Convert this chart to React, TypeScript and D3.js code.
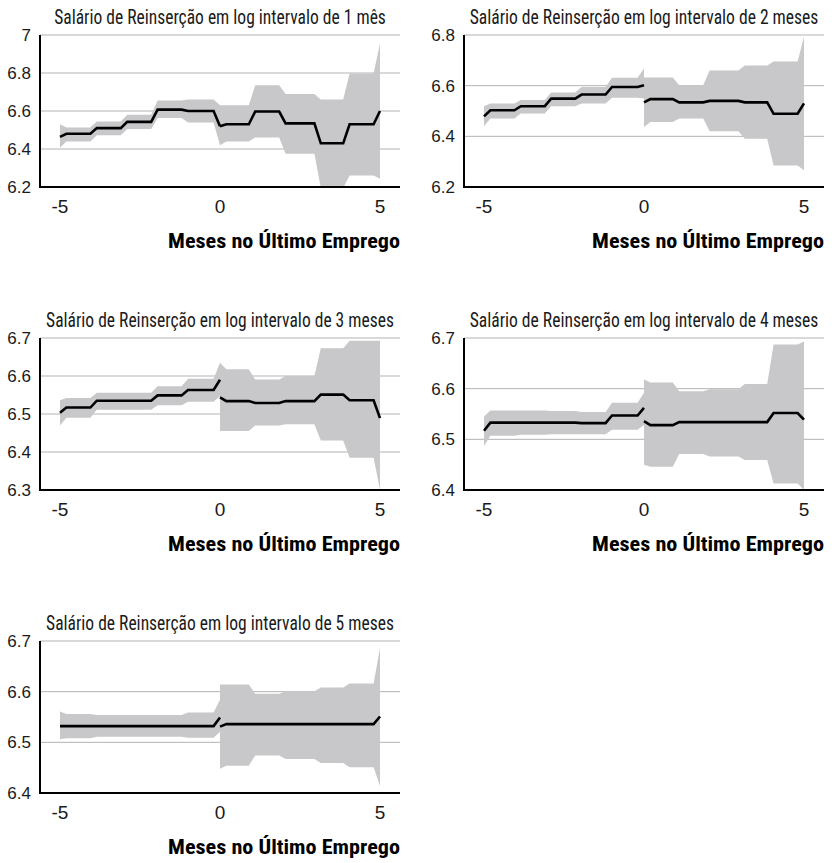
import React, { useLayoutEffect, useRef, useState } from 'react';
import * as d3 from 'd3';

// x positions (months) of the step vertices, before and after the break at 0
const preX = [-5, -4.8, -4.05, -3.85, -3.1, -2.9, -2.15, -1.95, -1.2, -1.0, -0.2, 0];
const postX = [0, 0.2, 0.9, 1.1, 1.85, 2.05, 2.95, 3.15, 3.85, 4.05, 4.8, 5];
const xTicks = [-5, 0, 5];

// each list: start value, five monthly levels, end value
const fit1Pre = [6.464, 6.48, 6.51, 6.543, 6.607, 6.6, 6.52];
const hi1Pre = [6.53, 6.513, 6.545, 6.58, 6.655, 6.66, 6.63];
const lo1Pre = [6.407, 6.44, 6.473, 6.505, 6.563, 6.54, 6.42];
const fit1Post = [6.52, 6.53, 6.597, 6.535, 6.43, 6.53, 6.6];
const hi1Post = [6.63, 6.63, 6.735, 6.69, 6.66, 6.797, 6.955];
const lo1Post = [6.42, 6.44, 6.46, 6.375, 6.195, 6.26, 6.243];

const fit2Pre = [6.479, 6.503, 6.519, 6.549, 6.565, 6.595, 6.602];
const hi2Pre = [6.519, 6.53, 6.543, 6.573, 6.595, 6.631, 6.668];
const lo2Pre = [6.44, 6.47, 6.49, 6.519, 6.53, 6.552, 6.549];
const fit2Post = [6.534, 6.547, 6.534, 6.54, 6.534, 6.489, 6.53];
const hi2Post = [6.632, 6.632, 6.602, 6.66, 6.68, 6.695, 6.793];
const lo2Post = [6.437, 6.457, 6.47, 6.42, 6.39, 6.285, 6.266];

const fit3Pre = [6.503, 6.517, 6.535, 6.535, 6.549, 6.563, 6.59];
const hi3Pre = [6.536, 6.542, 6.556, 6.556, 6.573, 6.593, 6.635];
const lo3Pre = [6.47, 6.49, 6.511, 6.511, 6.523, 6.532, 6.547];
const fit3Post = [6.544, 6.534, 6.529, 6.534, 6.551, 6.536, 6.489];
const hi3Post = [6.635, 6.618, 6.591, 6.6, 6.673, 6.693, 6.693];
const lo3Post = [6.455, 6.455, 6.47, 6.473, 6.43, 6.385, 6.3];

const fit4Pre = [6.517, 6.533, 6.533, 6.533, 6.532, 6.547, 6.562];
const hi4Pre = [6.545, 6.557, 6.557, 6.556, 6.554, 6.572, 6.592];
const lo4Pre = [6.487, 6.507, 6.509, 6.51, 6.51, 6.519, 6.529];
const fit4Post = [6.536, 6.528, 6.534, 6.534, 6.534, 6.552, 6.539];
const hi4Post = [6.618, 6.612, 6.595, 6.599, 6.609, 6.687, 6.693];
const lo4Post = [6.45, 6.446, 6.471, 6.466, 6.459, 6.413, 6.4];

const fit5Pre = [6.532, 6.532, 6.532, 6.532, 6.532, 6.532, 6.549];
const hi5Pre = [6.561, 6.556, 6.554, 6.554, 6.554, 6.559, 6.584];
const lo5Pre = [6.506, 6.508, 6.511, 6.511, 6.511, 6.509, 6.521];
const fit5Post = [6.531, 6.536, 6.536, 6.536, 6.536, 6.536, 6.551];
const hi5Post = [6.614, 6.614, 6.596, 6.601, 6.608, 6.616, 6.686];
const lo5Post = [6.448, 6.454, 6.474, 6.467, 6.459, 6.451, 6.414];

const yTicks1 = [6.2, 6.4, 6.6, 6.8, 7];
const yTicks2 = [6.2, 6.4, 6.6, 6.8];
const yTicks3 = [6.3, 6.4, 6.5, 6.6, 6.7];
const yTicks45 = [6.4, 6.5, 6.6, 6.7];

const titles = [
  'Salário de Reinserção em log intervalo de 1 mês',
  'Salário de Reinserção em log intervalo de 2 meses',
  'Salário de Reinserção em log intervalo de 3 meses',
  'Salário de Reinserção em log intervalo de 4 meses',
  'Salário de Reinserção em log intervalo de 5 meses',
];
const xTitle = 'Meses no Último Emprego';

const W = 360;
const H = 152;
const band = '#c8c8ca';
const grid = '#b3b3b3';
const ink = '#1a1a1a';
const condensed = "'Roboto Condensed','Liberation Sans Narrow','DejaVu Sans Condensed',Roboto,sans-serif";
const plain = "'Liberation Sans',Arial,sans-serif";

// turn [start, l1..l5, end] into one value per vertex
const expand = (v: number[]) => [v[0], v[1], v[1], v[2], v[2], v[3], v[3], v[4], v[4], v[5], v[5], v[6]];

const segment = (xs: number[], fit: number[], lo: number[], hi: number[]) => {
  const f = expand(fit), l = expand(lo), h = expand(hi);
  return xs.map((x, i) => ({ x, fit: f[i], lo: l[i], hi: h[i] }));
};

const panels = [
  { title: titles[0], tw: 332, ticks: yTicks1, left: 40, top: 35,
    segs: [segment(preX, fit1Pre, lo1Pre, hi1Pre), segment(postX, fit1Post, lo1Post, hi1Post)] },
  { title: titles[1], tw: 349, ticks: yTicks2, left: 464, top: 35,
    segs: [segment(preX, fit2Pre, lo2Pre, hi2Pre), segment(postX, fit2Post, lo2Post, hi2Post)] },
  { title: titles[2], tw: 348, ticks: yTicks3, left: 40, top: 338,
    segs: [segment(preX, fit3Pre, lo3Pre, hi3Pre), segment(postX, fit3Post, lo3Post, hi3Post)] },
  { title: titles[3], tw: 349, ticks: yTicks45, left: 464, top: 338,
    segs: [segment(preX, fit4Pre, lo4Pre, hi4Pre), segment(postX, fit4Post, lo4Post, hi4Post)] },
  { title: titles[4], tw: 348, ticks: yTicks45, left: 40, top: 641,
    segs: [segment(preX, fit5Pre, lo5Pre, hi5Pre), segment(postX, fit5Post, lo5Post, hi5Post)] },
];

type Pt = { x: number; fit: number; lo: number; hi: number };

// text squeezed horizontally to a given width (stand-in for a condensed face)
const Squeezed = ({ x, y, width, anchor, children, ...rest }: any) => {
  const ref = useRef<SVGTextElement>(null);
  const [k, setK] = useState(1);
  useLayoutEffect(() => {
    if (!ref.current) return;
    const natural = ref.current.getComputedTextLength();
    if (natural > 0) setK(width / natural);
  }, [width, children]);
  return (
    <g transform={`translate(${x},${y}) scale(${k},1)`}>
      <text ref={ref} x={0} y={0} textAnchor={anchor} {...rest}>{children}</text>
    </g>
  );
};

const Panel = ({ p, idx }: { p: any; idx: number }) => {
  const x = d3.scaleLinear().domain([-5.625, 5.625]).range([0, W]);
  const y = d3.scaleLinear().domain(d3.extent(p.ticks as number[]) as [number, number]).range([H, 0]);
  const area = d3.area<Pt>().x(d => x(d.x)).y0(d => y(d.lo)).y1(d => y(d.hi));
  const line = d3.line<Pt>().x(d => x(d.x)).y(d => y(d.fit));
  const clipId = `clip-${idx}`;

  return (
    <g transform={`translate(${p.left},${p.top})`}>
      <defs>
        <clipPath id={clipId}>
          <rect x={0} y={0} width={W} height={H} />
        </clipPath>
      </defs>
      <Squeezed x={W / 2} y={-11} width={p.tw} anchor="middle" fontFamily={condensed}
        fontSize={19.5} fill={ink}>{p.title}</Squeezed>
      {p.ticks.map((t: number) => (
        <g key={t}>
          <line x1={0} x2={W} y1={y(t)} y2={y(t)} stroke={grid} strokeWidth={1} />
          <text x={-9} y={y(t)} dy="0.36em" textAnchor="end" fontFamily={plain}
            fontSize={17} fill={ink}>{String(+t.toFixed(1))}</text>
        </g>
      ))}
      <g clipPath={`url(#${clipId})`}>
        {p.segs.map((s: Pt[], i: number) => (
          <path key={`a${i}`} d={area(s) || ''} fill={band} />
        ))}
        {p.segs.map((s: Pt[], i: number) => (
          <path key={`l${i}`} d={line(s) || ''} fill="none" stroke="#000" strokeWidth={2.6}
            strokeLinejoin="miter" />
        ))}
      </g>
      <line x1={0} x2={0} y1={0} y2={H + 1} stroke="#000" strokeWidth={2} />
      <line x1={-1} x2={W} y1={H} y2={H} stroke="#000" strokeWidth={2} />
      {xTicks.map(t => (
        <text key={t} x={x(t)} y={H + 26} textAnchor="middle" fontFamily={plain}
          fontSize={19} fill={ink}>{String(t)}</text>
      ))}
      <Squeezed x={W} y={H + 61} width={232} anchor="end" fontFamily={condensed}
        fontWeight="bold" fontSize={21} fill="#000">{xTitle}</Squeezed>
    </g>
  );
};

export default function App() {
  return (
    <svg width={832} height={863} style={{ position: 'absolute', left: 0, top: 0, background: '#fff' }}>
      {panels.map((p, i) => <Panel key={i} p={p} idx={i} />)}
    </svg>
  );
}
